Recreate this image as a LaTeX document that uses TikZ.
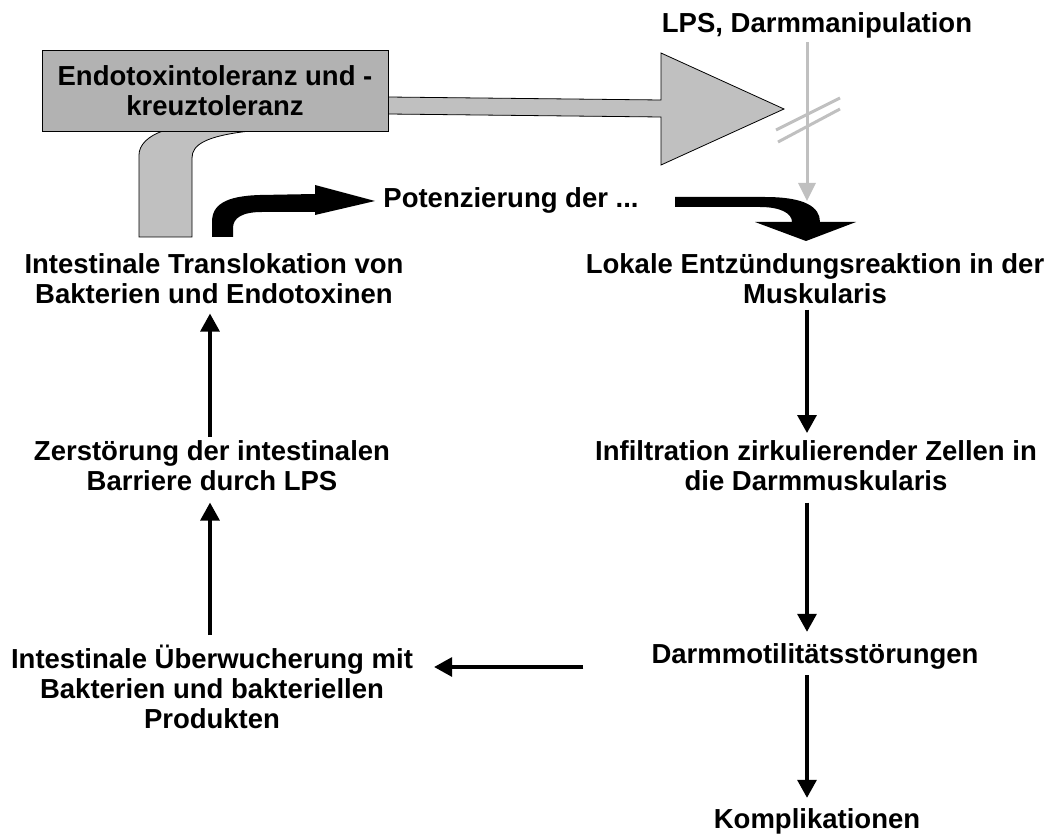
\documentclass[tikz,border=0pt]{standalone}
\usepackage{fontspec}
\setmainfont{Liberation Sans}
\usetikzlibrary{arrows.meta}
\definecolor{box-gray}{HTML}{B2B2B2}
\definecolor{arrow-gray}{HTML}{C0C0C0}
\tikzset{
    flow-text/.style = {font=\bfseries\fontsize{27.5}{30}\selectfont, align=center, inner sep=0pt, execute at begin node={\rule{0pt}{25pt}}},
    flow-arrow/.style = {line width=3.3pt, -{Triangle[width=19pt,length=18pt]}},
    gray-arrow/.style = {draw=arrow-gray, line width=3pt, -{Triangle[width=17pt,length=18pt]}},
    gray-shape/.style = {draw=black, fill=arrow-gray, line width=0.8pt},
    tol-box/.style = {draw=black, fill=box-gray, line width=0.8pt, minimum width=346pt, minimum height=81pt, inner sep=0pt, align=center, font=\bfseries\fontsize{27.5}{30}\selectfont},
}

\begin{document}
\begin{tikzpicture}[x=1pt,y=-1pt]
\useasboundingbox (0,0) rectangle (1055,834);

% grey arrows out of the box
\draw[gray-shape] (388,97) -- (661,100) -- (661,53) -- (784,109) -- (661,165) -- (661,117) -- (388,114) -- cycle;
\draw[gray-shape] (139,237) -- (139,155) .. controls (139,145) and (148,136) .. (163,131) -- (250,131) .. controls (205,136) and (192,145) .. (192,158) -- (192,237) -- cycle;
\node[tol-box] (tol) at (215,90.5) {Endotoxintoleranz und -\\kreuztoleranz};

% black bent arrows
\fill (212,237) -- (212,222) .. controls (212,205) and (225,196) .. (260,195) -- (315,194) -- (315,185) -- (375,201) -- (315,215) -- (315,212) -- (262,212) .. controls (242,212) and (233,218) .. (233,228) -- (233,237) -- cycle;
\fill (675,197) -- (765,197) .. controls (805,197) and (820,207) .. (820,222) -- (856,222) -- (806,241) -- (755,222) -- (792,222) .. controls (792,213) and (780,207) .. (760,207) -- (675,207) -- cycle;

\node[flow-text, anchor=north] (lps) at (817,7) {LPS, Darmmanipulation};
\node[flow-text, anchor=base] (potenz) at (511,208) {Potenzierung der ...};
\node[flow-text, anchor=north] (transl) at (214,253) {Intestinale Translokation von\\Bakterien und Endotoxinen};
\node[flow-text, anchor=north] (zerst) at (212,440) {Zerstörung der intestinalen\\Barriere durch LPS};
\node[flow-text, anchor=north] (ueber) at (212,645) {Intestinale Überwucherung mit\\Bakterien und bakteriellen\\Produkten};
\node[flow-text, anchor=north] (lokal) at (815,253) {Lokale Entzündungsreaktion in der\\Muskularis};
\node[flow-text, anchor=north] (infil) at (816,440) {Infiltration zirkulierender Zellen in\\die Darmmuskularis};
\node[flow-text, anchor=base] (motil) at (815,663) {Darmmotilitätsstörungen};
\node[flow-text, anchor=base] (kompl) at (817,828) {Komplikationen};

% LPS line, crossed out
\coordinate (gray-end) at (807,201);
\draw[gray-arrow, shorten <=4pt] ([xshift=-10pt]lps.south) -- (gray-end);
\draw[draw=arrow-gray, line width=3pt] (776,130) -- (840,98);
\draw[draw=arrow-gray, line width=3pt] (778,142) -- (840,109);

% cycle
\draw[flow-arrow, shorten <=3pt, shorten >=10pt] ([xshift=-2pt]zerst.north) -- ([xshift=-4pt]transl.south);
\draw[flow-arrow, shorten <=10pt, shorten >=12pt] ([xshift=-2pt]ueber.north) -- ([xshift=-2pt]zerst.south);
\draw[flow-arrow, shorten <=6pt, shorten >=7pt] ([xshift=-8pt]lokal.south) -- ([xshift=-9pt]infil.north);
\draw[flow-arrow, shorten <=12pt, shorten >=6pt] ([xshift=-9pt]infil.south) -- ([xshift=-8pt]motil.north);
\draw[flow-arrow, shorten <=6pt, shorten >=5pt] ([xshift=-8pt]motil.south) -- ([xshift=-10pt]kompl.north);
\draw[flow-arrow, shorten <=68pt, shorten >=21pt] ([yshift=-4pt]motil.base west) -- ([yshift=-4pt]motil.base west -| ueber.east);
\end{tikzpicture}
\end{document}
